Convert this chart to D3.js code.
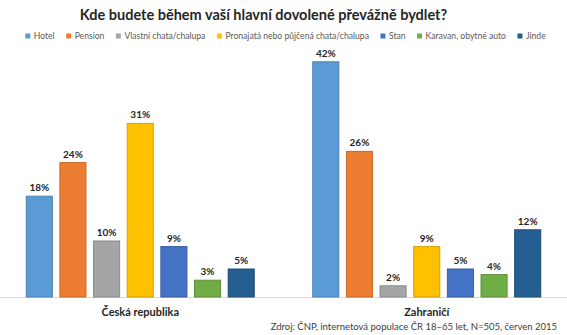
<!DOCTYPE html>
<html><head><meta charset="utf-8">
<script src="https://cdn.jsdelivr.net/npm/d3@7"></script>
<style>
html,body{margin:0;padding:0;background:#fff;}
svg{display:block;font-family:Lato,"Open Sans",sans-serif;}
</style></head>
<body>
<svg id="chart" width="567" height="335"></svg>
<script>
const groups = ["Česká republika", "Zahraničí"];
const seriesNames = ["Hotel", "Pension", "Vlastní chata/chalupa", "Pronajatá nebo půjčená chata/chalupa", "Stan", "Karavan, obytné auto", "Jinde"];
const ceskaValues = [18, 24, 10, 31, 9, 3, 5];
const zahraniciValues = [42, 26, 2, 9, 5, 4, 12];
const colors = ["#5B9BD5", "#ED7D31", "#A5A5A5", "#FFC000", "#4472C4", "#70AD47", "#255E91"];
const title = "Kde budete během vaší hlavní dovolené převážně bydlet?";
const source = "Zdroj: ČNP, internetová populace ČR 18–65 let, N=505, červen 2015";

const values = [ceskaValues, zahraniciValues];
const svg = d3.select("#chart");

const x0 = d3.scaleBand().domain(groups).range([-3, 570]).paddingInner(0).paddingOuter(0);
const innerW = 228;
const x1 = d3.scaleBand().domain(seriesNames).range([0, innerW]).paddingInner(0.225).paddingOuter(0);
const y = d3.scaleLinear().domain([0, 45]).range([297, 297 - 45 * 5.6]);

// title
svg.append("text").attr("x", 263.5).attr("y", 20).attr("text-anchor", "middle")
  .attr("font-size", 14.5).attr("font-weight", "bold").attr("fill", "#262626").text(title);

// legend
const leg = svg.append("g").attr("font-size", 8.6).attr("fill", "#595959");
let lx = 0;
const gap = 11.5;
seriesNames.forEach((s, i) => {
  const g = leg.append("g").attr("transform", `translate(${lx},0)`);
  g.append("rect").attr("x", 0).attr("y", -2.5).attr("width", 5).attr("height", 5).attr("fill", colors[i]);
  const t = g.append("text").attr("x", 8.5).attr("y", 0).attr("dy", "0.35em").text(s);
  const w = t.node().getComputedTextLength();
  lx += 8.5 + w + gap;
});
const totalW = lx - gap;
leg.attr("transform", `translate(${285.5 - totalW / 2},36)`);

// baseline
svg.append("line").attr("x1", 0).attr("x2", 567).attr("y1", y(0) + 0.5).attr("y2", y(0) + 0.5)
  .attr("stroke", "#D9D9D9").attr("stroke-width", 1);

// bars
groups.forEach((gname, gi) => {
  const gx = x0(gname) + (x0.bandwidth() - innerW) / 2;
  const g = svg.append("g").attr("transform", `translate(${gx},0)`);
  g.selectAll("rect").data(values[gi]).join("rect")
    .attr("x", (d, i) => x1(seriesNames[i]))
    .attr("y", d => y(d))
    .attr("width", x1.bandwidth())
    .attr("height", d => y(0) - y(d))
    .attr("fill", (d, i) => colors[i])
    .attr("stroke", (d, i) => d3.color(colors[i]).darker(0.5))
    .attr("stroke-width", 1);
  g.selectAll("text.lbl").data(values[gi]).join("text").attr("class", "lbl")
    .attr("x", (d, i) => x1(seriesNames[i]) + x1.bandwidth() / 2)
    .attr("y", d => y(d) - 5)
    .attr("text-anchor", "middle").attr("font-size", 10).attr("font-weight", "bold")
    .attr("fill", "#262626").text(d => d + "%");
  svg.append("text").attr("x", x0(gname) + x0.bandwidth() / 2).attr("y", 316)
    .attr("text-anchor", "middle").attr("font-size", 11).attr("font-weight", "bold")
    .attr("fill", "#262626").text(gname);
});

// source
svg.append("text").attr("x", 557).attr("y", 330).attr("text-anchor", "end")
  .attr("font-size", 9.5).attr("fill", "#404040").text(source);
</script>
</body></html>
